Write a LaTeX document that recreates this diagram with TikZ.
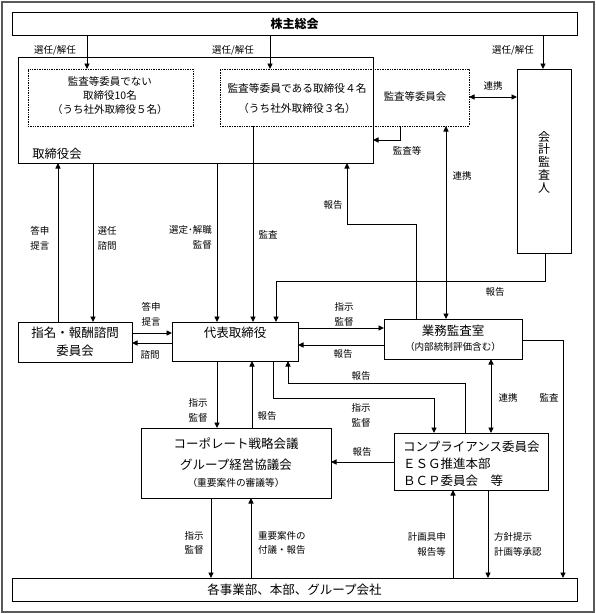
\documentclass[tikz,border=0pt]{standalone}
\usepackage{fontspec}
\setmainfont{Noto Sans CJK JP}
\usetikzlibrary{arrows.meta}
\begin{document}
\begin{tikzpicture}[x=1pt,y=-1pt,
  tip/.tip={Triangle[length=5.5pt,width=5pt]},
  arr/.style={line width=0.9pt,-tip},
  darr/.style={line width=0.9pt,tip-tip},
  box/.style={draw,line width=1pt,inner sep=0pt,outer sep=0pt},
  dbox/.style={draw,densely dotted,line width=0.7pt,inner sep=0pt,outer sep=0pt},
  lbl/.style={font=\fontsize{9.5}{14.5}\selectfont,inner sep=0pt,align=center},
  ttl/.style={font=\fontsize{12.5}{18}\selectfont,inner sep=0pt,align=center},
]
\useasboundingbox (0,0) rectangle (596,614);
\draw[gray!70!black,line width=1.2pt] (2,2) rectangle (594,612);

% boxes
\node[box,minimum width=565pt,minimum height=23pt,font=\fontsize{12}{14}\selectfont\bfseries] (kabu) at (294.5,23.5) {株主総会};
\node[box,minimum width=355pt,minimum height=106pt] (tori) at (195.5,110) {};
\node[dbox,minimum width=165pt,minimum height=57pt] (d1) at (110.5,97.5) {};
\node[dbox,minimum width=249pt,minimum height=57pt] (d2) at (344.5,97.5) {};
\node[box,minimum width=54pt,minimum height=184pt] (kaikei) at (544,161) {};
\node[box,minimum width=114pt,minimum height=40pt] (shimei) at (75,342) {};
\node[box,minimum width=126pt,minimum height=39pt] (daihyo) at (235,341.5) {};
\node[box,minimum width=138pt,minimum height=40pt] (gyomu) at (453,339) {};
\node[box,minimum width=190pt,minimum height=70pt] (corp) at (236,463) {};
\node[box,minimum width=154pt,minimum height=57pt] (comp) at (471,461.5) {};
\node[box,minimum width=565pt,minimum height=23pt,font=\fontsize{12.5}{14}\selectfont] (kaku) at (294.5,589.5) {各事業部、本部、グループ会社};

% box texts
\node[inner sep=0pt,align=center,font=\fontsize{10.5}{14}\selectfont] (d1t) at (110,96) {監査等委員でない\\取締役10名\\（うち社外取締役５名）};
\node[inner sep=0pt,align=center,font=\fontsize{10.7}{20}\selectfont] (d2t) at (297,98) {監査等委員である取締役４名\\（うち社外取締役３名）};
\node[inner sep=0pt,font=\fontsize{10.4}{12}\selectfont] (kansaikai) at (415,97) {監査等委員会};
\node[inner sep=0pt,font=\fontsize{12.3}{14}\selectfont] (torit) at (57,154) {取締役会};
\node[inner sep=0pt,align=center,font=\fontsize{12}{12.8}\selectfont] (kaikeit) at (544,162) {会\\計\\監\\査\\人};
\node[ttl] (shimeit) at (75,342) {指名・報酬諮問\\委員会};
\node[ttl] (daihyot) at (235,333) {代表取締役};
\node[ttl] (gyomut) at (453,331) {業務監査室};
\node[inner sep=0pt,font=\fontsize{9.6}{11}\selectfont] (gyomut2) at (453,347) {（内部統制評価含む）};
\node[ttl] (corpt1) at (236,444) {コーポレート戦略会議};
\node[ttl] (corpt2) at (236,465) {グループ経営協議会};
\node[inner sep=0pt,font=\fontsize{9.7}{11}\selectfont] (corpt3) at (236,483) {（重要案件の審議等）};
\node[inner sep=0pt,align=left,anchor=west,font=\fontsize{12.5}{17}\selectfont] (compt) at (403,464) {コンプライアンス委員会\\ＥＳＧ推進本部\\ＢＣＰ委員会　等};

% coordinates
\foreach \x in {58,87,93,211,217,251,252,253,270,273,276,288,347,400,416,434,446,453,465,488,491,543,545,563}
  \coordinate (c\x) at (\x,0);
\foreach \y in {97,140,224,281,328,333,340,343,345,383,398,462}
  \coordinate (r\y) at (0,\y);

% connectors
\draw[arr] (kabu.south -| c87) -- (d1.north -| c87);
\draw[arr] (kabu.south -| c270) -- (d2.north -| c270);
\draw[arr] (kabu.south -| c543) -- (kaikei.north -| c543);
\draw[darr] (d2.east |- r97) -- (kaikei.west |- r97);
\draw[arr] (d2.south -| c400) -- (c400 |- r140) -- (tori.east |- r140);
\draw[darr] (d2.south -| c446) -- (gyomu.north -| c446);
\draw[arr] (gyomu.north -| c416) -- (c416 |- r224) -- (c347 |- r224) -- (tori.south -| c347);
\draw[arr] (kaikei.south -| c545) -- (c545 |- r281) -- (c276 |- r281) -- (daihyo.north -| c276);
\draw[arr] (tori.south -| c93) -- (shimei.north -| c93);
\draw[arr] (shimei.north -| c58) -- (tori.south -| c58);
\draw[arr] (tori.south -| c217) -- (daihyo.north -| c217);
\draw[arr] (d2.south -| c253) -- (daihyo.north -| c253);
\draw[arr] (shimei.east |- r333) -- (daihyo.west |- r333);
\draw[arr] (daihyo.west |- r343) -- (shimei.east |- r343);
\draw[arr] (daihyo.east |- r328) -- (gyomu.west |- r328);
\draw[arr] (gyomu.west |- r345) -- (daihyo.east |- r345);
\draw[arr] (gyomu.east |- r340) -- (c563 |- r340) -- (kaku.north -| c563);
\draw[darr] (gyomu.south -| c491) -- (comp.north -| c491);
\draw[arr] (comp.north -| c465) -- (c465 |- r383) -- (c288 |- r383) -- (daihyo.south -| c288);
\draw[arr] (daihyo.south -| c273) -- (c273 |- r398) -- (c434 |- r398) -- (comp.north -| c434);
\draw[arr] (comp.west |- r462) -- (corp.east |- r462);
\draw[arr] (daihyo.south -| c217) -- (corp.north -| c217);
\draw[arr] (corp.north -| c252) -- (daihyo.south -| c252);
\draw[arr] (corp.south -| c211) -- (kaku.north -| c211);
\draw[arr] (kaku.north -| c251) -- (corp.south -| c251);
\draw[arr] (kaku.north -| c453) -- (comp.south -| c453);
\draw[arr] (comp.south -| c488) -- (kaku.north -| c488);

% labels
\node[lbl] (l1) at (55,50) {選任/解任};
\node[lbl] (l2) at (233,50) {選任/解任};
\node[lbl] (l3) at (513,50) {選任/解任};
\node[lbl] (l4) at (493,86) {連携};
\node[lbl] (l5) at (407,151) {監査等};
\node[lbl] (l6) at (462,176) {連携};
\node[lbl] (l7) at (333,205) {報告};
\node[lbl] (l8) at (495,292) {報告};
\node[lbl] (l9) at (40,238.5) {答申\\提言};
\node[lbl] (l10) at (107,238.5) {選任\\諮問};
\node[lbl,align=right,anchor=east] (l11) at (212,237.5) {選定･解職\\監督};
\node[lbl] (l12) at (268,235) {監査};
\node[lbl] (l13) at (151,314.5) {答申\\提言};
\node[lbl] (l14) at (150,355) {諮問};
\node[lbl] (l15) at (344,314.5) {指示\\監督};
\node[lbl] (l16) at (343,354) {報告};
\node[lbl] (l17) at (549,398) {監査};
\node[lbl] (l18) at (508,398) {連携};
\node[lbl] (l19) at (361,376) {報告};
\node[lbl] (l20) at (361,415.5) {指示\\監督};
\node[lbl] (l21) at (362,452) {報告};
\node[lbl] (l22) at (198,410.5) {指示\\監督};
\node[lbl] (l23) at (267,416) {報告};
\node[lbl] (l24) at (194,543) {指示\\監督};
\node[lbl,align=left,anchor=west] (l25) at (258,543) {重要案件の\\付議・報告};
\node[lbl,align=right,anchor=east] (l26) at (446,544.5) {計画具申\\報告等};
\node[lbl,align=left,anchor=west] (l27) at (494,544.5) {方針提示\\計画等承認};
\end{tikzpicture}
\end{document}
